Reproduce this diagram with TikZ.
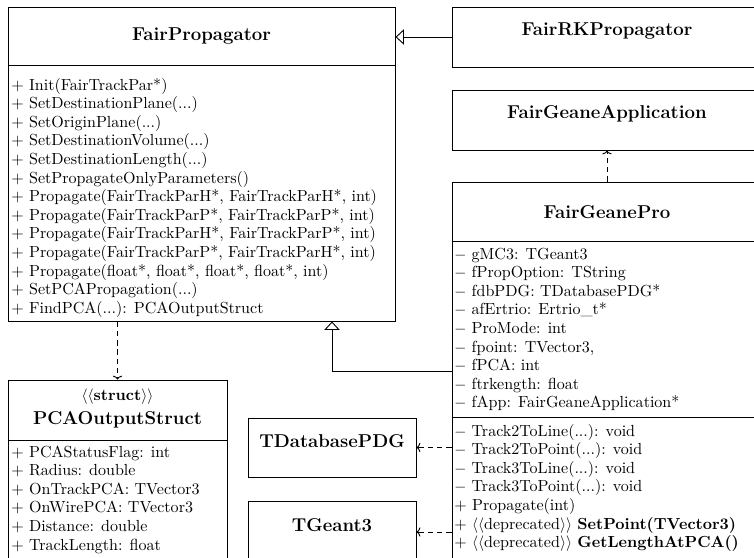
\documentclass[tikz,border=0pt]{standalone}
\usetikzlibrary{arrows.meta,fit}
\begin{document}
\begin{tikzpicture}[x=0.645pt,y=-0.645pt,
  umlbox/.style={draw, line width=0.6pt, inner sep=0pt},
  sepline/.style={draw, line width=0.6pt},
  ctitle/.style={font=\large\bfseries, inner sep=0pt},
  member/.style={font=\fontsize{10.35}{12}\selectfont, inner sep=0pt, anchor=base west},
  inh/.style={draw, line width=0.6pt, -{Triangle[open,length=5.5pt,width=10pt]}},
  dep/.style={draw, line width=0.6pt, dash pattern=on 3.5pt off 2.5pt, -{To[length=2.5pt,width=6pt]}}]
\useasboundingbox (0,0) rectangle (754,558);
\clip (0,0) rectangle (754,558);

% FairPropagator
\node[umlbox, fit={(8,7) (395,321)}] (fp) {};
\coordinate (fph) at (0,65);
\draw[sepline] (fp.west |- fph) -- (fp.east |- fph);
\node[ctitle] (fpt) at (201.5,36) {FairPropagator};
\node[member] (fpo) at (11,90) {\begin{tabular}[t]{@{}l@{}}
+ Init(FairTrackPar*)\\
+ SetDestinationPlane(...)\\
+ SetOriginPlane(...)\\
+ SetDestinationVolume(...)\\
+ SetDestinationLength(...)\\
+ SetPropagateOnlyParameters()\\
+ Propagate(FairTrackParH*, FairTrackParH*, int)\\
+ Propagate(FairTrackParP*, FairTrackParP*, int)\\
+ Propagate(FairTrackParH*, FairTrackParP*, int)\\
+ Propagate(FairTrackParP*, FairTrackParH*, int)\\
+ Propagate(float*, float*, float*, float*, int)\\
+ SetPCAPropagation(...)\\
+ FindPCA(...): PCAOutputStruct
\end{tabular}};

% FairRKPropagator
\node[umlbox, ctitle, fit={(452,7) (762,67)}] (frk) {FairRKPropagator};

% FairGeaneApplication
\node[umlbox, ctitle, fit={(452,90) (762,150)}] (fga) {FairGeaneApplication};

% FairGeanePro
\node[umlbox, fit={(452,182) (762,600)}] (fgp) {};
\coordinate (fgph) at (0,241);
\coordinate (fgps) at (0,417);
\draw[sepline] (fgp.west |- fgph) -- (fgp.east |- fgph);
\draw[sepline] (fgp.west |- fgps) -- (fgp.east |- fgps);
\node[ctitle] (fgpt) at (607,212) {FairGeanePro};
\node[member] (fgpa) at (454,259) {\begin{tabular}[t]{@{}l@{}}
$-$ gMC3: TGeant3\\
$-$ fPropOption: TString\\
$-$ fdbPDG: TDatabasePDG*\\
$-$ afErtrio: Ertrio\_t*\\
$-$ ProMode: int\\
$-$ fpoint: TVector3,\\
$-$ fPCA: int\\
$-$ ftrkength: float\\
$-$ fApp: FairGeaneApplication*
\end{tabular}};
\node[member] (fgpo) at (454,436) {\begin{tabular}[t]{@{}l@{}}
$-$ Track2ToLine(...): void\\
$-$ Track2ToPoint(...): void\\
$-$ Track3ToLine(...): void\\
$-$ Track3ToPoint(...): void\\
+ Propagate(int)\\
+ $\langle\langle$deprecated$\rangle\rangle$ \textbf{SetPoint(TVector3)}\\
+ $\langle\langle$deprecated$\rangle\rangle$ \textbf{GetLengthAtPCA()}
\end{tabular}};

% TDatabasePDG and TGeant3
\node[umlbox, ctitle, fit={(248,418) (416,477)}] (tdb) {TDatabasePDG};
\node[umlbox, ctitle, fit={(248,501) (416,563)}] (tg3) {TGeant3};

% PCAOutputStruct
\node[umlbox, fit={(8,380) (227,600)}] (pca) {};
\coordinate (pcah) at (0,440);
\draw[sepline] (pca.west |- pcah) -- (pca.east |- pcah);
\node[inner sep=0pt, anchor=base, font=\fontsize{10.35}{12}\selectfont] (pcas) at (117.5,400) {$\langle\langle$\textbf{struct}$\rangle\rangle$};
\node[ctitle, anchor=base] (pcat) at (117.5,424) {PCAOutputStruct};
\node[member] (pcaa) at (11,457) {\begin{tabular}[t]{@{}l@{}}
+ PCAStatusFlag: int\\
+ Radius: double\\
+ OnTrackPCA: TVector3\\
+ OnWirePCA: TVector3\\
+ Distance: double\\
+ TrackLength: float
\end{tabular}};

% connectors
\draw[inh] (frk.west) -- (fp.east |- frk.west);
\draw[dep] (fgp.north) -- (fga.south);
\coordinate (bend) at (332,371);
\draw[inh] (fgp.west |- bend) -- (bend) -- (bend |- fp.south);
\draw[dep] (fgp.west |- tdb.east) -- (tdb.east);
\draw[dep] (fgp.west |- tg3.east) -- (tg3.east);
\draw[dep] (fp.south -| pca.north) -- (pca.north);
\end{tikzpicture}
\end{document}
